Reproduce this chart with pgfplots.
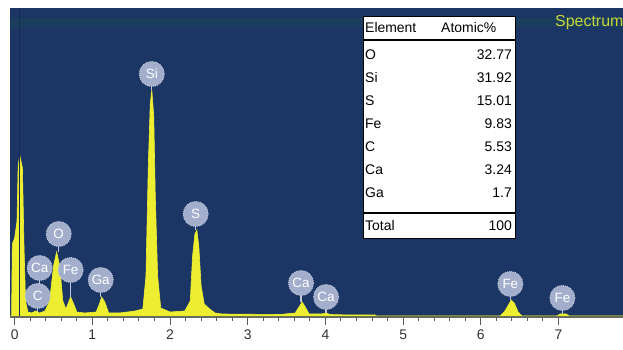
\documentclass[border=0pt]{standalone}
\usepackage{pgfplots}
\pgfplotsset{compat=1.18}
\usepackage{pgfplotstable}
\usepackage{fontspec}
\setmainfont{Liberation Sans}
\definecolor{navy}{HTML}{1B3564}
\definecolor{navyband}{HTML}{1B3D5E}
\definecolor{specyellow}{HTML}{EEEE30}
\definecolor{lblfill}{HTML}{A2AECB}
\definecolor{lbledge}{HTML}{BFC8DD}
\definecolor{spectxt}{HTML}{C8D838}

\pgfplotstableread{
x y
-0.06 0
-0.04 0
-0.03 72
0.00 78
0.03 95
0.045 150
0.065 161
0.10 148
0.12 70
0.14 15
0.17 4
0.22 3
0.27 5
0.32 3
0.39 5
0.45 15
0.50 50
0.54 64
0.58 50
0.62 15
0.66 7
0.70 15
0.72 19
0.76 12
0.80 4
0.90 3
1.05 4
1.09 12
1.12 19
1.16 14
1.21 3
1.35 3
1.55 5
1.65 7
1.69 40
1.72 150
1.745 212
1.765 226
1.79 200
1.81 120
1.84 40
1.88 8
2.00 4
2.19 5
2.26 15
2.29 60
2.32 82
2.345 86
2.37 70
2.40 30
2.44 12
2.51 7
2.58 3
2.67 2
3.41 1.5
3.61 3
3.66 9
3.70 14
3.74 9
3.79 2
3.95 2
4.01 3
4.06 1.5
4.32 1
4.64 1
4.66 0
6.25 0
6.31 5
6.37 13
6.39 16
6.43 13
6.48 4
6.53 0
6.98 0
7.02 2
7.10 2
7.14 0
7.83 0
}\spectrum

\pgfplotstableread{
x y top label
1.765 242 226 Si
2.33 102 86 S
0.567 82 64 O
0.322 48 20 Ca
0.296 20 4 C
0.72 46 19 Fe
1.108 36 19 Ga
3.686 33 14 Ca
4.008 19 3 Ca
6.38 32 16 Fe
7.05 18 2 Fe
}\labels

\begin{document}
\begin{tikzpicture}
\useasboundingbox (0,0) rectangle (623bp,350bp);
\begin{axis}[
  at={(10bp,33bp)}, anchor=south west,
  scale only axis, width=613bp, height=309bp,
  xmin=-0.06, xmax=7.83, ymin=-1, ymax=308,
  axis background/.style={fill=navy},
  axis x line*=bottom,
  axis y line=none,
  x axis line style={black!60, line width=0.8pt},
  xtick={0,...,7}, minor x tick num=4,
  tick align=outside,
  major tick length=8bp, minor tick length=4bp,
  every tick/.style={black!65, line width=1pt},
  xticklabel style={font=\fontsize{14}{16}\selectfont, text=black!80, yshift=-1bp},
  /pgf/number format/assume math mode=true,
  ytick=\empty,
  clip=false,
]
\fill[navyband] (axis cs:-0.06,289) rectangle (axis cs:7.83,298);
\addplot[fill=specyellow, draw=specyellow, line width=0.6pt] table[x=x,y=y] {\spectrum} \closedcycle;
\draw[navy!80!black, line width=1.2pt] (axis cs:0.06,0) -- (axis cs:0.06,308);
\pgfplotstableforeachcolumnelement{x}\of\labels\as\lx{%
  \pgfplotstablegetelem{\pgfplotstablerow}{y}\of\labels
  \let\ly\pgfplotsretval
  \pgfplotstablegetelem{\pgfplotstablerow}{top}\of\labels
  \let\lt\pgfplotsretval
  \edef\temp{\noexpand\draw[lbledge, line width=1.2pt] (axis cs:\lx,\lt) -- (axis cs:\lx,\ly);}
  \temp
}
\addplot[draw=none, mark=none, nodes near coords, point meta=explicit symbolic,
  nodes near coords style={circle, fill=lblfill, draw=lbledge, line width=1pt, densely dotted,
    text=white, minimum size=25bp, inner sep=0pt, anchor=center,
    font=\fontsize{13.5}{14}\selectfont}]
  table[x=x, y=y, meta=label] {\labels};
\end{axis}
\begin{scope}[x=1bp, y=1bp, shift={(0,350bp)}, yscale=-1]
  \fill[white] (363,16) rectangle (515,238);
  \draw[black, line width=0.8pt] (363,16) rectangle (515,238);
  \draw[black, line width=1.8pt] (363,40) -- (515,40);
  \draw[black, line width=1.8pt] (363,213) -- (515,213);
  \begin{scope}[every node/.style={font=\fontsize{14}{16}\selectfont, inner sep=0pt}]
  \node[anchor=west] at (365,28) {Element};
  \node[anchor=west] at (441,28) {Atomic\%};
  \foreach \el/\val/\yy in {O/32.77/55, Si/31.92/78, S/15.01/101, Fe/9.83/124, C/5.53/147, Ca/3.24/170, Ga/1.7/193, Total/100/226}{
    \node[anchor=west] at (365,\yy) {\el};
    \node[anchor=east] at (512,\yy) {\val};
  }
  \end{scope}
  \node[anchor=west, text=spectxt, font=\fontsize{16}{18}\selectfont, inner sep=0pt] at (555,23) {Spectrum};
\end{scope}
\end{tikzpicture}
\end{document}
